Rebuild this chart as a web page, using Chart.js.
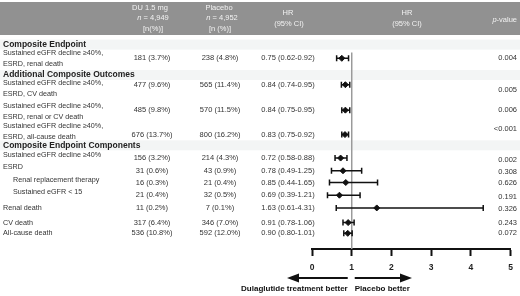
<!DOCTYPE html>
<html>
<head>
<meta charset="utf-8">
<script src="https://cdn.jsdelivr.net/npm/chart.js@4.4.0/dist/chart.umd.min.js"></script>
<style>
  html, body { margin: 0; padding: 0; background: #fff; }
  canvas { display: block; }
</style>
</head>
<body>
<canvas id="forest" width="520" height="296"></canvas>
<script>
// rows of the table / forest plot
const rowLabels = [
  ['Sustained eGFR decline ≥40%,', 'ESRD, renal death'],
  ['Sustained eGFR decline ≥40%,', 'ESRD, CV death'],
  ['Sustained eGFR decline ≥40%,', 'ESRD, renal or CV death'],
  ['Sustained eGFR decline ≥40%,', 'ESRD, all-cause death'],
  ['Sustained eGFR decline ≥40%'],
  ['ESRD'],
  ['Renal replacement therapy'],
  ['Sustained eGFR < 15'],
  ['Renal death'],
  ['CV death'],
  ['All-cause death']
];
const indented = [false, false, false, false, false, false, true, true, false, false, false];
const duCount = [181, 477, 485, 676, 156, 31, 16, 21, 11, 317, 536];
const duPct = [3.7, 9.6, 9.8, 13.7, 3.2, 0.6, 0.3, 0.4, 0.2, 6.4, 10.8];
const placeboCount = [238, 565, 570, 800, 214, 43, 21, 32, 7, 346, 592];
const placeboPct = [4.8, 11.4, 11.5, 16.2, 4.3, 0.9, 0.4, 0.5, 0.1, 7.0, 12.0];
const hr = [0.75, 0.84, 0.84, 0.83, 0.72, 0.78, 0.85, 0.69, 1.63, 0.91, 0.90];
const ciLow = [0.62, 0.74, 0.75, 0.75, 0.58, 0.49, 0.44, 0.39, 0.61, 0.78, 0.80];
const ciHigh = [0.92, 0.95, 0.95, 0.92, 0.88, 1.25, 1.65, 1.21, 4.31, 1.06, 1.01];
const pValues = ['0.004', '0.005', '0.006', '<0.001', '0.002', '0.308', '0.626', '0.191', '0.326', '0.243', '0.072'];

const sections = ['Composite Endpoint', 'Additional Composite Outcomes', 'Composite Endpoint Components'];
const xTicks = [0, 1, 2, 3, 4, 5];

// table layout (vertical position of each line, in table units)
const rowY = [54, 81, 107, 132, 156, 169, 181, 194, 207, 222, 233];
const labelY = [54, 85, 108, 129, 153, 165, 178, 191, 207, 222, 233];
const pY = [54, 86, 107, 126, 158, 170, 181, 196, 208, 222, 233];
const sectionY = [40, 71, 143];
const refTop = 48;
const tableBottom = 249;

const FONT = '"Liberation Sans", Arial, sans-serif';
const TEXT = '#333';

function fmt(n, pct) {
  return n + ' (' + pct.toFixed(1) + '%)';
}

// draws "n = 4,949" style text with an italic first part
function mixedText(ctx, parts, x, y, align) {
  let widths = parts.map(function(p) {
    ctx.font = p.font;
    return ctx.measureText(p.text).width;
  });
  let total = widths.reduce(function(a, b) { return a + b; }, 0);
  let start = align === 'right' ? x - total : x - total / 2;
  ctx.textAlign = 'left';
  parts.forEach(function(p, i) {
    ctx.font = p.font;
    ctx.fillText(p.text, start, y);
    start += widths[i];
  });
}

const tablePlugin = {
  id: 'table',
  beforeDraw(chart) {
    const ctx = chart.ctx;
    const ys = chart.scales.y;
    ctx.save();
    ctx.fillStyle = '#919191';
    ctx.fillRect(0, 2, 520, 33);
    ctx.fillStyle = '#f3f5f5';
    sectionY.forEach(function(v) {
      ctx.fillRect(0, ys.getPixelForValue(v) - 5, 520, 10);
    });
    ctx.restore();
  },
  afterDraw(chart) {
    const ctx = chart.ctx;
    const ys = chart.scales.y;
    const xs = chart.scales.x;
    const reg = '7.5px ' + FONT;
    const ital = 'italic 7.5px ' + FONT;
    ctx.save();
    ctx.textBaseline = 'middle';

    // header
    ctx.fillStyle = '#f2f2f2';
    ctx.font = reg;
    ctx.textAlign = 'center';
    ctx.fillText('DU 1.5 mg', 150, 8);
    mixedText(ctx, [{text: 'n', font: ital}, {text: ' = 4,949', font: reg}], 153, 18);
    ctx.font = reg;
    ctx.textAlign = 'center';
    ctx.fillText('[n(%)]', 153, 29);
    ctx.fillText('Placebo', 219, 8);
    mixedText(ctx, [{text: 'n', font: ital}, {text: ' = 4,952', font: reg}], 222, 18);
    ctx.font = reg;
    ctx.textAlign = 'center';
    ctx.fillText('[n (%)]', 220, 29);
    ctx.fillText('HR', 288, 13);
    ctx.fillText('(95% CI)', 289, 24);
    ctx.fillText('HR', 407, 13);
    ctx.fillText('(95% CI)', 407, 24);
    mixedText(ctx, [{text: 'p', font: ital}, {text: '-value', font: reg}], 517, 20, 'right');

    // section titles
    ctx.fillStyle = '#222';
    ctx.font = 'bold 8.5px ' + FONT;
    ctx.textAlign = 'left';
    sections.forEach(function(s, i) {
      ctx.fillText(s, 3, ys.getPixelForValue(sectionY[i]));
    });

    // rows
    ctx.fillStyle = TEXT;
    rowLabels.forEach(function(lines, i) {
      const cy = ys.getPixelForValue(labelY[i]);
      const x = indented[i] ? 13 : 3;
      ctx.font = '7.2px ' + FONT;
      ctx.textAlign = 'left';
      if (lines.length === 2) {
        ctx.fillText(lines[0], x, cy - 5.5);
        ctx.fillText(lines[1], x, cy + 5.5);
      } else {
        ctx.fillText(lines[0], x, cy);
      }
      const ry = ys.getPixelForValue(rowY[i]);
      ctx.font = reg;
      ctx.textAlign = 'center';
      ctx.fillText(fmt(duCount[i], duPct[i]), 152, ry);
      ctx.fillText(fmt(placeboCount[i], placeboPct[i]), 220, ry);
      ctx.fillText(hr[i].toFixed(2) + ' (' + ciLow[i].toFixed(2) + '-' + ciHigh[i].toFixed(2) + ')', 288, ry);
      ctx.textAlign = 'right';
      ctx.fillText(pValues[i], 517, ys.getPixelForValue(pY[i]));
    });

    // direction arrows under the axis
    const one = xs.getPixelForValue(1);
    const ay = 278;
    ctx.strokeStyle = '#111';
    ctx.fillStyle = '#111';
    ctx.lineWidth = 2;
    function arrow(from, to) {
      const dir = to > from ? 1 : -1;
      ctx.beginPath();
      ctx.moveTo(from, ay);
      ctx.lineTo(to - dir * 10, ay);
      ctx.stroke();
      ctx.beginPath();
      ctx.moveTo(to, ay);
      ctx.lineTo(to - dir * 12, ay - 4.5);
      ctx.lineTo(to - dir * 12, ay + 4.5);
      ctx.closePath();
      ctx.fill();
    }
    arrow(one - 4, 287);
    arrow(one + 3, 412);

    ctx.font = 'bold 8px ' + FONT;
    ctx.textAlign = 'right';
    ctx.fillText('Dulaglutide treatment better', one - 4, 289);
    ctx.textAlign = 'left';
    ctx.fillText('Placebo better', one + 3, 289);
    ctx.restore();
  }
};

// one dataset per confidence interval
const ciSets = hr.map(function(v, i) {
  return {
    data: [{x: ciLow[i], y: rowY[i]}, {x: ciHigh[i], y: rowY[i]}],
    showLine: true,
    borderColor: '#111',
    borderWidth: 1.5,
    pointStyle: 'line',
    pointRotation: 90,
    pointRadius: 3,
    pointBorderWidth: 1.5,
    pointBorderColor: '#111',
    order: 2
  };
});

const hrSet = {
  data: hr.map(function(v, i) { return {x: v, y: rowY[i]}; }),
  pointStyle: 'rectRot',
  pointRadius: 3,
  backgroundColor: '#111',
  borderColor: '#111',
  borderWidth: 1,
  order: 1
};

const refSet = {
  data: [{x: 1, y: refTop}, {x: 1, y: tableBottom}],
  showLine: true,
  borderColor: '#9a9a9a',
  borderWidth: 1.5,
  pointRadius: 0,
  order: 3
};

new Chart(document.getElementById('forest'), {
  type: 'scatter',
  data: { datasets: [refSet].concat(ciSets, [hrSet]) },
  options: {
    responsive: false,
    animation: false,
    devicePixelRatio: 1,
    layout: { padding: { left: 312, right: 9, top: 0, bottom: 0 } },
    plugins: { legend: { display: false }, tooltip: { enabled: false } },
    scales: {
      x: {
        type: 'linear',
        min: 0,
        max: 5,
        afterBuildTicks: function(scale) {
          scale.ticks = xTicks.map(function(v) { return {value: v}; });
        },
        afterFit: function(scale) { scale.height = 296 - tableBottom; },
        border: { display: true, color: '#111', width: 2 },
        grid: { drawOnChartArea: false, drawTicks: true, tickLength: 7, tickWidth: 2, tickColor: '#111' },
        ticks: { color: '#222', padding: 7, font: { family: FONT, size: 8.5, weight: 'bold' } }
      },
      y: {
        type: 'linear',
        display: false,
        reverse: true,
        min: 0,
        max: tableBottom
      }
    }
  },
  plugins: [tablePlugin]
});
</script>
</body>
</html>
